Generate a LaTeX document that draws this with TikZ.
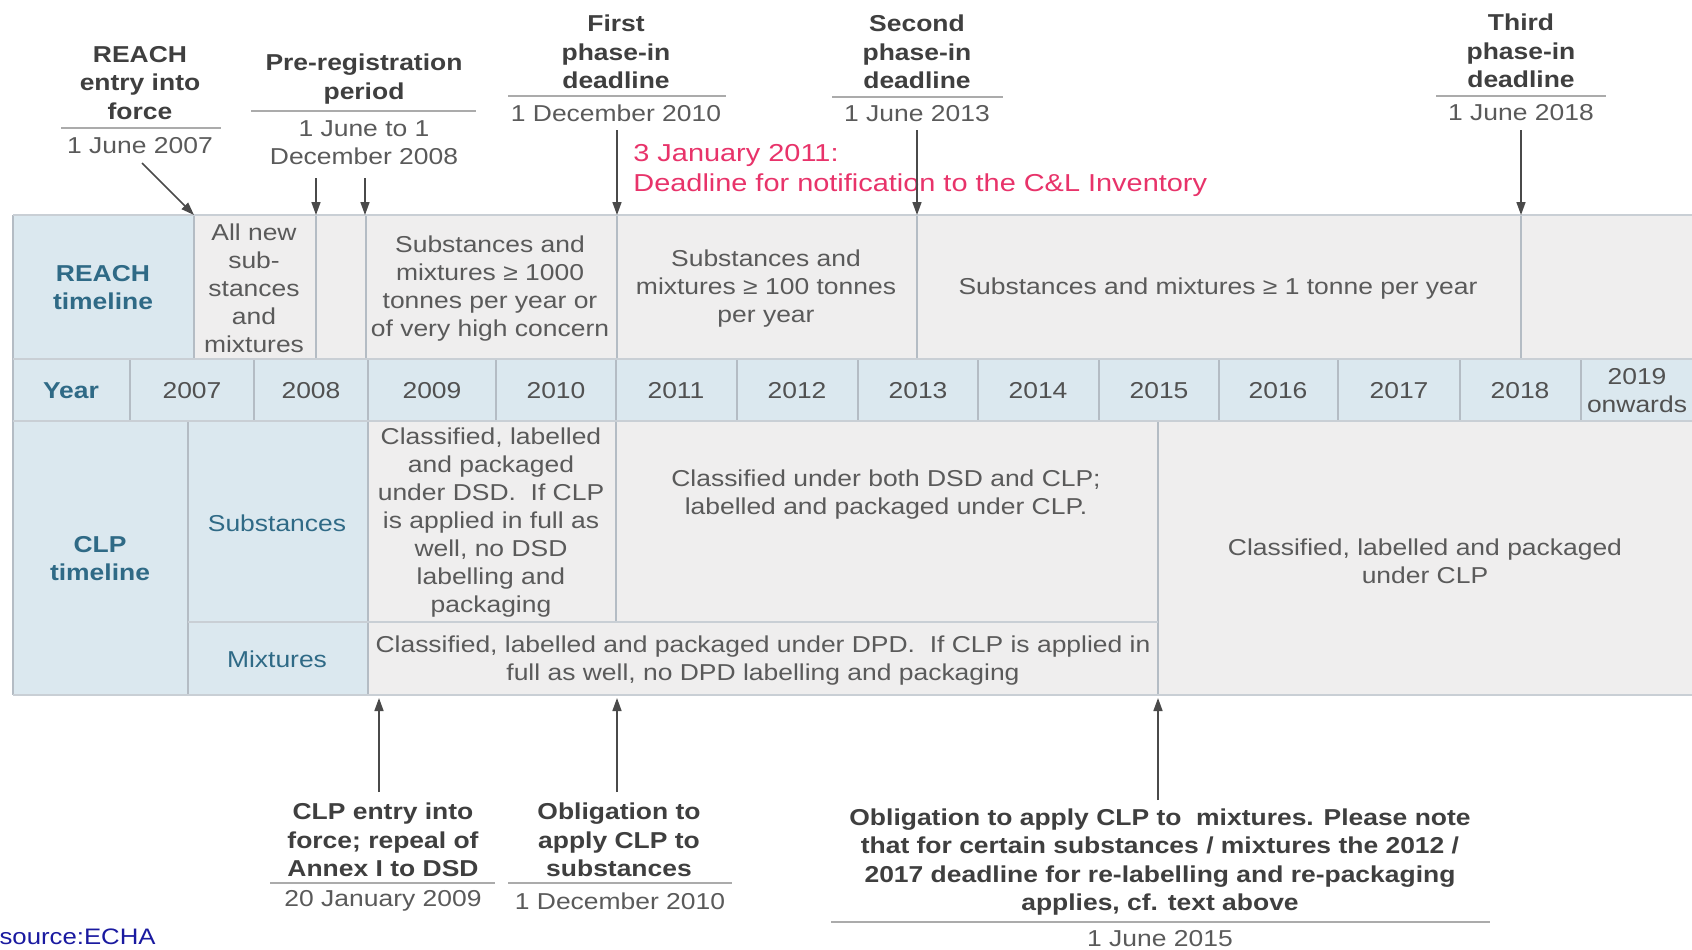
\documentclass[tikz,border=0pt]{standalone}
\usepackage{fontspec}
\setmainfont{Liberation Sans}[FakeStretch=1.15]
\newfontfamily\redfont{Liberation Sans}[FakeStretch=1.18]
\usetikzlibrary{arrows.meta}
\definecolor{hdrblue}{HTML}{DBE8EF}
\definecolor{cellgrey}{HTML}{EFEEEE}
\definecolor{gridc}{HTML}{B4BCC4}
\definecolor{rowsep}{HTML}{C9CFD5}
\definecolor{txtgrey}{HTML}{5A5A5A}
\definecolor{boldgrey}{HTML}{3F3F3F}
\definecolor{labblue}{HTML}{2F6A86}
\definecolor{redtxt}{HTML}{E8336A}
\definecolor{srcblue}{HTML}{1A1AA0}
\definecolor{arrc}{HTML}{4A4A4A}
\definecolor{ulc}{HTML}{ABABAB}
\begin{document}
\begin{tikzpicture}[x=0.5pt,y=-0.5pt,
  body/.style={font=\fontsize{11.5}{14}\selectfont, text=txtgrey, align=center, inner sep=0pt},
  yr/.style={body, text=txtgrey!90!black},
  head/.style={font=\fontsize{11.5}{14.3}\selectfont\bfseries, text=boldgrey, align=center, inner sep=0pt},
  lab/.style={font=\fontsize{11.5}{14}\selectfont\bfseries, text=labblue, align=center, inner sep=0pt},
  labn/.style={font=\fontsize{11.5}{14}\selectfont, text=labblue, align=center, inner sep=0pt},
  vline/.style={draw=gridc, line width=0.6pt},
  hline/.style={draw=rowsep, line width=1.4pt},
  arr/.style={draw=arrc, line width=0.8pt, -{Triangle[length=6.5pt,width=4.5pt]}},
  uline/.style={draw=ulc, line width=1pt}]
\useasboundingbox (0,0) rectangle (1692,949);
\fill[white] (0,0) rectangle (1692,949);

% ---------- table fills ----------
\fill[hdrblue] (13,215) rectangle (194,359);
\fill[cellgrey] (194,215) rectangle (1692,359);
\fill[hdrblue] (13,359) rectangle (1692,421);
\fill[hdrblue] (13,421) rectangle (368,695);
\fill[cellgrey] (368,421) rectangle (1692,695);

% ---------- vertical grid lines ----------
\foreach \x in {194,316,366,617,917,1521} \draw[vline] (\x,215) -- (\x,359);
\foreach \x in {130,254,368,496,616,737,858,978,1099,1219,1338,1460,1581} \draw[vline] (\x,359) -- (\x,421);
\foreach \x in {188,368,1158} \draw[vline] (\x,421) -- (\x,695);
\draw[vline] (616,421) -- (616,622);
\draw[vline] (13,215) -- (13,695);

% ---------- horizontal row lines ----------
\foreach \y in {215,359,421,695} \draw[hline] (13,\y) -- (1692,\y);
\draw[hline] (188,622) -- (1158,622);

% ---------- REACH row ----------
\node[lab] (reachlab) at (103,288) {REACH\\timeline};
\node[body] (allnew) at (254,288) {All new\\sub-\\stances\\and\\mixtures};
\node[body] (t1000) at (490,289) {Substances and\\mixtures ≥ 1000\\tonnes per year or\\of very high concern};
\node[body] (t100) at (766,289) {Substances and\\mixtures ≥ 100 tonnes\\per year};
\node[body] (t1) at (1218,289) {Substances and mixtures ≥ 1 tonne per year};

% ---------- Year row ----------
\node[lab, text=labblue] (yearlab) at (71,391) {Year};
\node[yr] (y2007) at (192,391) {2007};
\node[yr] (y2008) at (311,391) {2008};
\node[yr] (y2009) at (432,391) {2009};
\node[yr] (y2010) at (556,391) {2010};
\node[yr] (y2011) at (676,391) {2011};
\node[yr] (y2012) at (797,391) {2012};
\node[yr] (y2013) at (918,391) {2013};
\node[yr] (y2014) at (1038,391) {2014};
\node[yr] (y2015) at (1159,391) {2015};
\node[yr] (y2016) at (1278,391) {2016};
\node[yr] (y2017) at (1399,391) {2017};
\node[yr] (y2018) at (1520,391) {2018};
\node[yr] (y2019) at (1637,391) {2019\\onwards};

% ---------- CLP rows ----------
\node[lab] (clplab) at (100,559) {CLP\\timeline};
\node[labn] (sublab) at (277,523) {Substances};
\node[labn] (mixlab) at (277,659) {Mixtures};
\node[body] (dsd) at (491,523) {Classified, labelled\\and packaged\\under DSD.\ \ If CLP\\is applied in full as\\well, no DSD\\labelling and\\packaging};
\node[body] (both) at (886,495) {Classified under both DSD and CLP;\\labelled and packaged under CLP.};
\node[body] (mixdpd) at (763,661) {Classified, labelled and packaged under DPD.\ \ If CLP is applied in\\full as well, no DPD labelling and packaging};
\node[body] (clponly) at (1425,561) {Classified, labelled and packaged\\under CLP};

% ---------- top annotations ----------
\node[head] (reachhd) at (140,83) {REACH\\entry into\\force};
\node[body] (reachdt) at (140,146) {1 June 2007};
\coordinate (ulra) at (61,128); \coordinate (ulrb) at (221,128);
\draw[uline] (ulra) -- (ulrb);

\node[head] (prehd) at (364,79) {Pre-registration\\period};
\node[body] (predt) at (364,143) {1 June to 1\\December 2008};
\coordinate (ulpa) at (251,111); \coordinate (ulpb) at (476,111);
\draw[uline] (ulpa) -- (ulpb);

\node[head] (firsthd) at (616,52) {First\\phase-in\\deadline};
\node[body] (firstdt) at (616,113) {1 December 2010};
\coordinate (ulfa) at (508,96); \coordinate (ulfb) at (726,96);
\draw[uline] (ulfa) -- (ulfb);

\node[head] (secondhd) at (917,52) {Second\\phase-in\\deadline};
\node[body] (seconddt) at (917,114) {1 June 2013};
\coordinate (ulsa) at (832,97); \coordinate (ulsb) at (1003,97);
\draw[uline] (ulsa) -- (ulsb);

\node[head] (thirdhd) at (1521,51) {Third\\phase-in\\deadline};
\node[body] (thirddt) at (1521,113) {1 June 2018};
\coordinate (ulta) at (1436,96); \coordinate (ultb) at (1606,96);
\draw[uline] (ulta) -- (ultb);

\node[font=\redfont\fontsize{12.25}{15}\selectfont, text=redtxt, align=left, inner sep=0pt, anchor=west] (notif) at (633,170) {3 January 2011:\\Deadline for notification to the C\&L Inventory};

% top arrows
\coordinate (a1s) at (142,163); \coordinate (a1e) at (194,215);
\coordinate (a2s) at (316,178); \coordinate (a2e) at (316,215);
\coordinate (a3s) at (365,178); \coordinate (a3e) at (365,215);
\coordinate (a4s) at (617,130); \coordinate (a4e) at (617,215);
\coordinate (a5s) at (917,130); \coordinate (a5e) at (917,215);
\coordinate (a6s) at (1521,130); \coordinate (a6e) at (1521,215);
\draw[arr] (a1s) -- (a1e);
\draw[arr] (a2s) -- (a2e);
\draw[arr] (a3s) -- (a3e);
\draw[arr] (a4s) -- (a4e);
\draw[arr] (a5s) -- (a5e);
\draw[arr] (a6s) -- (a6e);

% ---------- bottom annotations ----------
\node[head] (clphd) at (383,840) {CLP entry into\\force; repeal of\\Annex I to DSD};
\node[body] (clpdt) at (383,901) {20 January 2009};
\coordinate (ulca) at (270,883); \coordinate (ulcb) at (495,883);
\draw[uline] (ulca) -- (ulcb);

\node[head] (oblhd) at (619,840) {Obligation to\\apply CLP to\\substances};
\node[body] (obldt) at (620,901) {1 December 2010};
\coordinate (ulda) at (508,883); \coordinate (uldb) at (732,883);
\draw[uline] (ulda) -- (uldb);

\node[head] (mixhd) at (1160,862) {Obligation to apply CLP to\ \ mixtures. Please note\\that for certain substances / mixtures the 2012 /\\2017 deadline for re-labelling and re-packaging\\applies, cf. text above};
\node[body] (mixdt) at (1160,939) {1 June 2015};
\coordinate (ulma) at (831,922); \coordinate (ulmb) at (1490,922);
\draw[uline] (ulma) -- (ulmb);

\coordinate (b1s) at (379,792); \coordinate (b1e) at (379,698);
\coordinate (b2s) at (617,792); \coordinate (b2e) at (617,698);
\coordinate (b3s) at (1158,800); \coordinate (b3e) at (1158,698);
\draw[arr] (b1s) -- (b1e);
\draw[arr] (b2s) -- (b2e);
\draw[arr] (b3s) -- (b3e);

\node[font=\fontsize{11.2}{13}\selectfont, text=srcblue, inner sep=0pt, anchor=east] (src) at (156,937) {source:ECHA};
\end{tikzpicture}
\end{document}
